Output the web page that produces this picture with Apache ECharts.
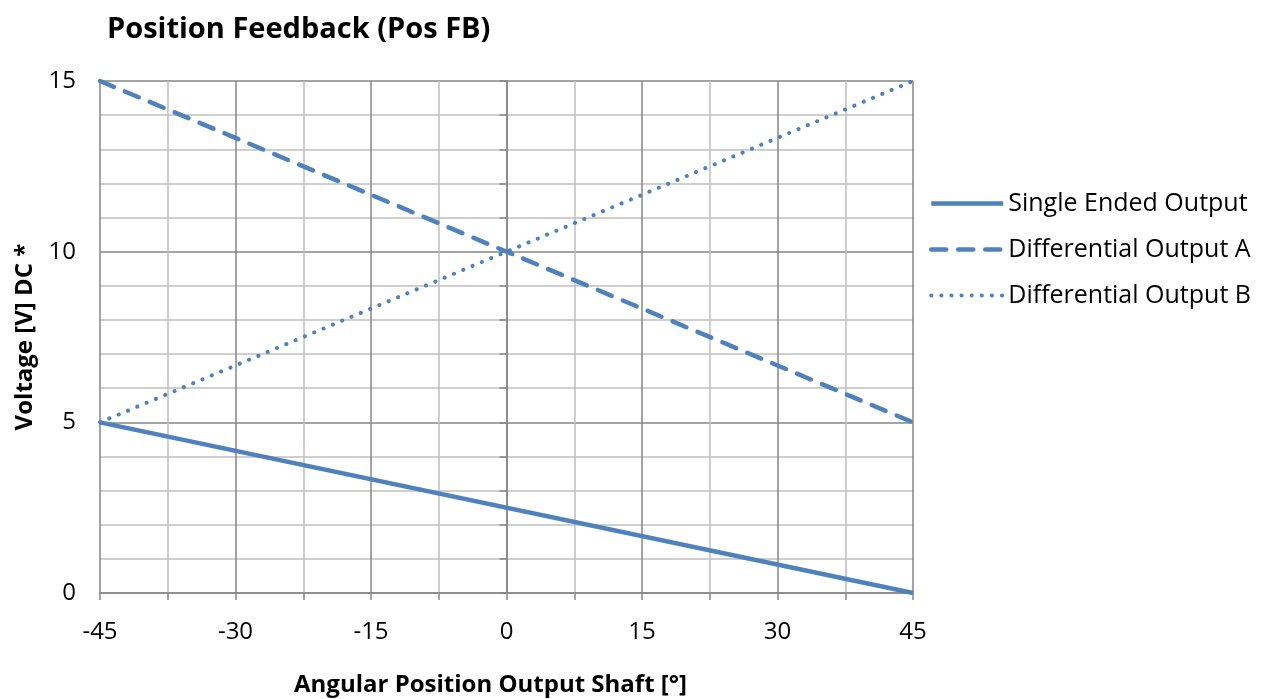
<!DOCTYPE html>
<html><head><meta charset="utf-8">
<script src="https://cdn.jsdelivr.net/npm/echarts@6/dist/echarts.min.js"></script>
<style>html,body{margin:0;padding:0;background:#fff}#c{width:1271px;height:699px}</style>
</head><body><div id="c"></div>
<script>
const seriesNames = ['Single Ended Output', 'Differential Output A', 'Differential Output B'];
const angles = [-45, 45];
const singleEnded = [5, 0];
const diffA = [15, 5];
const diffB = [5, 15];
const xTicks = [-45, -30, -15, 0, 15, 30, 45];
const yTicks = [0, 5, 10, 15];

const font = '"Open Sans", sans-serif';
const blue = '#4f81bd';
const pairs = v => angles.map((a, i) => [a, v[i]]);
const styles = [
  { color: blue, width: 4.5, type: 'solid', cap: 'butt' },
  { color: blue, width: 4.5, type: [15, 12], cap: 'round' },
  { color: blue, width: 4, type: [0.1, 10], cap: 'round' }
];
const chart = echarts.init(document.getElementById('c'));
chart.setOption({
  animation: false,
  title: { text: 'Position Feedback (Pos FB)', left: 102, top: 10,
    textStyle: { fontFamily: font, fontWeight: 'bold', fontSize: 29, color: '#000' } },
  grid: { left: 100, right: 358, top: 81, bottom: 106, outerBoundsMode: 'none', containLabel: false },
  legend: { orient: 'vertical', left: 924, top: 186, itemWidth: 72, itemHeight: 14, itemGap: 21,
    itemStyle: { opacity: 0 },
    textStyle: { fontFamily: font, fontSize: 25, color: '#000' },
    data: seriesNames.map((n, i) => ({ name: n, lineStyle: { width: styles[i].width, type: styles[i].type, cap: styles[i].cap } })) },
  xAxis: { type: 'value', min: -45, max: 45, interval: 15,
    name: 'Angular Position Output Shaft [°]', nameLocation: 'middle', nameGap: 80,
    nameTextStyle: { fontFamily: font, fontWeight: 'bold', fontSize: 24, color: '#000', padding: [0, 32, 0, 0] },
    axisLine: { lineStyle: { color: '#868686', width: 1.5 } },
    axisTick: { show: true, length: 7, lineStyle: { color: '#868686', width: 1.5 } },
    minorTick: { show: true, splitNumber: 2, length: 7, lineStyle: { color: '#868686', width: 1.5 } },
    axisLabel: { fontFamily: font, fontSize: 24, color: '#000', margin: 27,
      formatter: v => xTicks.includes(v) ? String(v) : '' },
    splitLine: { show: true, lineStyle: { color: '#868686', width: 1.5 } },
    minorSplitLine: { show: true, lineStyle: { color: '#c0c0c0', width: 1.5 } } },
  yAxis: { type: 'value', min: 0, max: 15, interval: 5,
    name: 'Voltage [V] DC *', nameLocation: 'middle', nameGap: 58,
    nameTextStyle: { fontFamily: font, fontWeight: 'bold', fontSize: 24, color: '#000' },
    axisLine: { show: true, lineStyle: { color: '#868686', width: 1.5 } },
    axisTick: { show: true, length: 7, lineStyle: { color: '#868686', width: 1.5 } },
    minorTick: { show: true, splitNumber: 5, length: 7, lineStyle: { color: '#868686', width: 1.5 } },
    axisLabel: { fontFamily: font, fontSize: 24, color: '#000', margin: 24,
      formatter: v => yTicks.includes(v) ? String(v) : '' },
    splitLine: { show: true, lineStyle: { color: '#868686', width: 1.5 } },
    minorSplitLine: { show: true, lineStyle: { color: '#c0c0c0', width: 1.5 } } },
  series: [
    { name: seriesNames[0], type: 'line', symbol: 'none', data: pairs(singleEnded), color: blue, lineStyle: styles[0] },
    { name: seriesNames[1], type: 'line', symbol: 'none', data: pairs(diffA), color: blue, lineStyle: styles[1] },
    { name: seriesNames[2], type: 'line', symbol: 'none', data: pairs(diffB), color: blue, lineStyle: styles[2] }
  ]
});
</script></body></html>
